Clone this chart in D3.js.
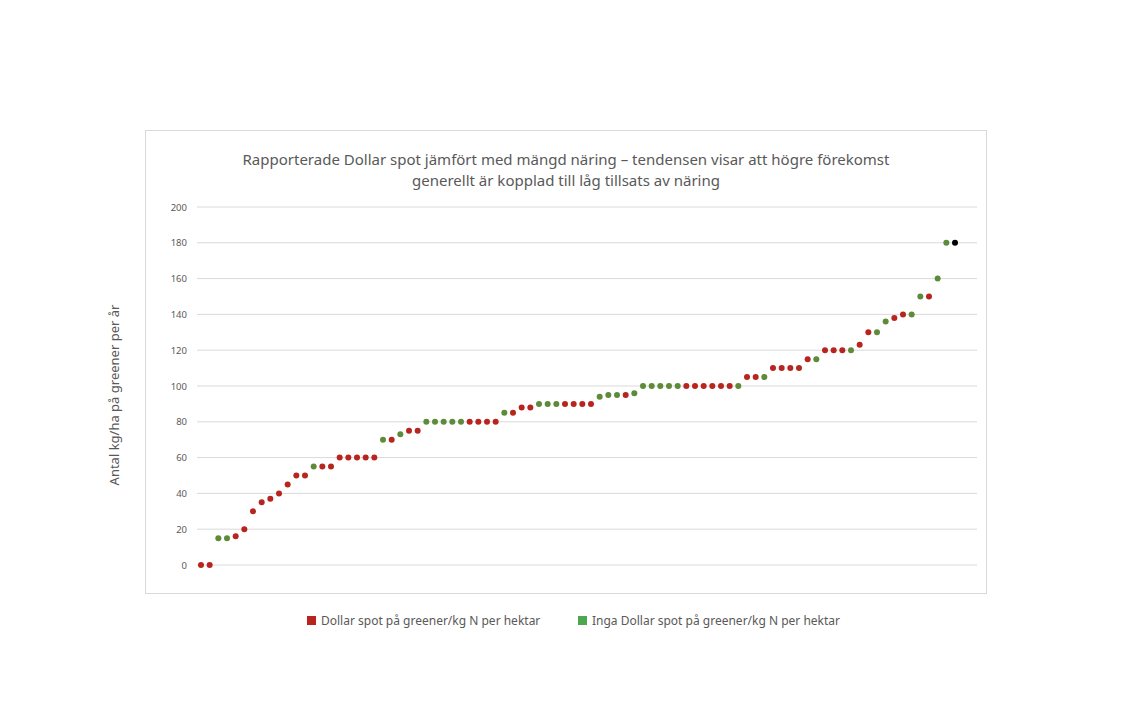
<!DOCTYPE html>
<html><head><meta charset="utf-8">
<script src="https://cdn.jsdelivr.net/npm/d3@7"></script>
<style>body{margin:0;background:#fff}text{font-family:"Noto Sans","Open Sans",sans-serif}</style>
</head><body>
<script>
// values sorted ascending, group: R = dollar spot, G = no dollar spot
const values = [0,0,15,15,16,20,30,35,37,40,45,50,50,55,55,55,60,60,60,60,60,70,70,73,75,75,
  80,80,80,80,80,80,80,80,80,85,85,88,88,90,90,90,90,90,90,90,94,95,95,95,96,
  100,100,100,100,100,100,100,100,100,100,100,100,105,105,105,110,110,110,110,115,115,
  120,120,120,120,123,130,130,136,138,140,140,150,150,160,180,180];
const groups = "RRGGRRRRRRRRRGRRRRRRRGRGRRGGGGGRRRRGRRRGGGRRRRGGGRGGGGGGRRRRRRGRRGRRRRRGRRRGRRGGRRGGRGG".split("");
const yTicks = [0,20,40,60,80,100,120,140,160,180,200];
const seriesNames = ["Dollar spot på greener/kg N per hektar","Inga Dollar spot på greener/kg N per hektar"];
const title = ["Rapporterade Dollar spot jämfört med mängd näring – tendensen visar att högre förekomst","generellt är kopplad till låg tillsats av näring"];

const W = 1132, H = 724;
const svg = d3.select("body").append("svg").attr("width", W).attr("height", H);
svg.append("rect").attr("x",145.5).attr("y",130.5).attr("width",841).attr("height",463)
  .attr("fill","#fff").attr("stroke","#d9d9d9");

const x = d3.scaleLinear().domain([0, values.length-1]).range([201, 955]);
const y = d3.scaleLinear().domain([0,200]).range([565, 207]);

svg.append("g").selectAll("line").data(yTicks).join("line")
  .attr("x1",197).attr("x2",977).attr("y1",d=>y(d)).attr("y2",d=>y(d))
  .attr("stroke","#d9d9d9").attr("stroke-width",1);
svg.append("g").selectAll("text").data(yTicks).join("text")
  .attr("x",187).attr("y",d=>y(d)+3.5).attr("text-anchor","end")
  .attr("font-size",9.5).attr("fill","#595959").text(d=>d);

const col = {R:"#b8251e", G:"#5e8b3a"};
svg.append("g").selectAll("circle").data(values).join("circle")
  .attr("cx",(d,i)=>x(i)).attr("cy",d=>y(d)).attr("r",3)
  .attr("fill",(d,i)=>col[groups[i]]);

svg.selectAll(".t").data(title).join("text")
  .attr("x",566).attr("y",(d,i)=>165+i*21).attr("text-anchor","middle")
  .attr("font-size",15).attr("fill","#595959").text(d=>d);

svg.append("text").attr("transform","translate(119,395) rotate(-90)")
  .attr("text-anchor","middle").attr("font-size",13).attr("fill","#595959")
  .text("Antal kg/ha på greener per år");

const leg = [{x:307,c:"#b8251e"},{x:578,c:"#4ea74e"}];
leg.forEach((l,i)=>{
  svg.append("rect").attr("x",l.x).attr("y",616).attr("width",9).attr("height",9).attr("fill",l.c);
  svg.append("text").attr("x",l.x+14).attr("y",625).attr("font-size",12).attr("fill","#595959").text(seriesNames[i]);
});
</script>
</body></html>
